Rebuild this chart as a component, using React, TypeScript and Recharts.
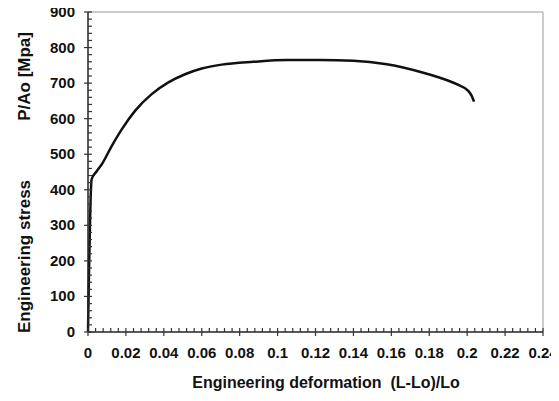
import React from 'react';
import { LineChart, Line, XAxis, YAxis, ReferenceLine } from 'recharts';

const strain = [0, 0.0019, 0.0046, 0.0072, 0.0125, 0.0178, 0.0248, 0.0336, 0.0424, 0.0512, 0.06, 0.0705, 0.0872, 0.1048, 0.1224, 0.14, 0.1576, 0.175, 0.1857, 0.1945, 0.2006, 0.2024, 0.2036];
const stress = [0, 429, 452, 471, 523, 570, 622, 669, 702, 725, 741, 752, 760, 765, 765, 763, 753, 732, 715, 697, 678, 664, 648];

const xTicks = Array.from({ length: 61 }, (_, i) => +(i * 0.004).toFixed(3));
const yTicks = Array.from({ length: 46 }, (_, i) => i * 20);
const xMax = 0.24;
const yMax = 900;

const data = strain.map((s, i) => ({ x: s, y: stress[i] }));

const FONT = '"Liberation Sans", Arial, sans-serif';
const AX = '#222';

const XTick = (props: any) => {
  const { x, y, payload } = props;
  const v = payload.value;
  const major = Math.abs(v / 0.02 - Math.round(v / 0.02)) < 1e-6;
  return (
    <g>
      <line x1={x} x2={x} y1={y - 4} y2={major ? y + 4 : y} stroke="#333" strokeWidth={1.2} />
      {major && (
        <text x={x} y={y + 26} textAnchor="middle" fontFamily={FONT} fontWeight="bold" fontSize={15} fill="#111">
          {String(v)}
        </text>
      )}
    </g>
  );
};

const YTick = (props: any) => {
  const { x, y, payload } = props;
  const v = payload.value;
  const major = v % 100 === 0;
  return (
    <g>
      <line x1={major ? x - 4 : x} x2={x + 4} y1={y} y2={y} stroke="#333" strokeWidth={1.2} />
      {major && (
        <text x={x - 13} y={y + 5} textAnchor="end" fontFamily={FONT} fontWeight="bold" fontSize={15} fill="#111">
          {String(v)}
        </text>
      )}
    </g>
  );
};

const YTitle = () => (
  <g fontFamily={FONT} fontWeight="bold" fontSize={17} fill="#111">
    <text transform="translate(22,325) rotate(-90)" textAnchor="start">Engineering stress</text>
    <text transform="translate(22,24) rotate(-90)" textAnchor="end">P/Ao [Mpa]</text>
  </g>
);

const XTitle = () => (
  <text x={318} y={380} textAnchor="middle" fontFamily={FONT} fontWeight="bold" fontSize={16} fill="#111">
    {'Engineering deformation\u00A0\u00A0(L-Lo)/Lo'}
  </text>
);

export default function App() {
  return (
    <div>
      <style>{'.recharts-surface{overflow:visible}'}</style>
      <LineChart width={551} height={385} data={data} margin={{ top: 4, right: 16, left: 0, bottom: 0 }}>
        <XAxis
          type="number"
          dataKey="x"
          domain={[0, xMax]}
          ticks={xTicks}
          interval={0}
          height={61}
          tickSize={0}
          tickMargin={0}
          tickLine={false}
          tick={<XTick />}
          axisLine={{ stroke: AX, strokeWidth: 1.5 }}
          label={<XTitle />}
        />
        <YAxis
          type="number"
          domain={[0, yMax]}
          ticks={yTicks}
          interval={0}
          width={80}
          tickSize={0}
          tickMargin={0}
          tickLine={false}
          tick={<YTick />}
          axisLine={{ stroke: AX, strokeWidth: 1.5 }}
          label={<YTitle />}
        />
        <ReferenceLine y={yMax} stroke="#bbb" strokeWidth={1.5} ifOverflow="visible" />
        <ReferenceLine x={xMax} stroke="#bbb" strokeWidth={1.5} ifOverflow="visible" />
        <Line
          type="monotone"
          dataKey="y"
          stroke="#111"
          strokeWidth={2.5}
          dot={false}
          isAnimationActive={false}
        />
      </LineChart>
    </div>
  );
}
